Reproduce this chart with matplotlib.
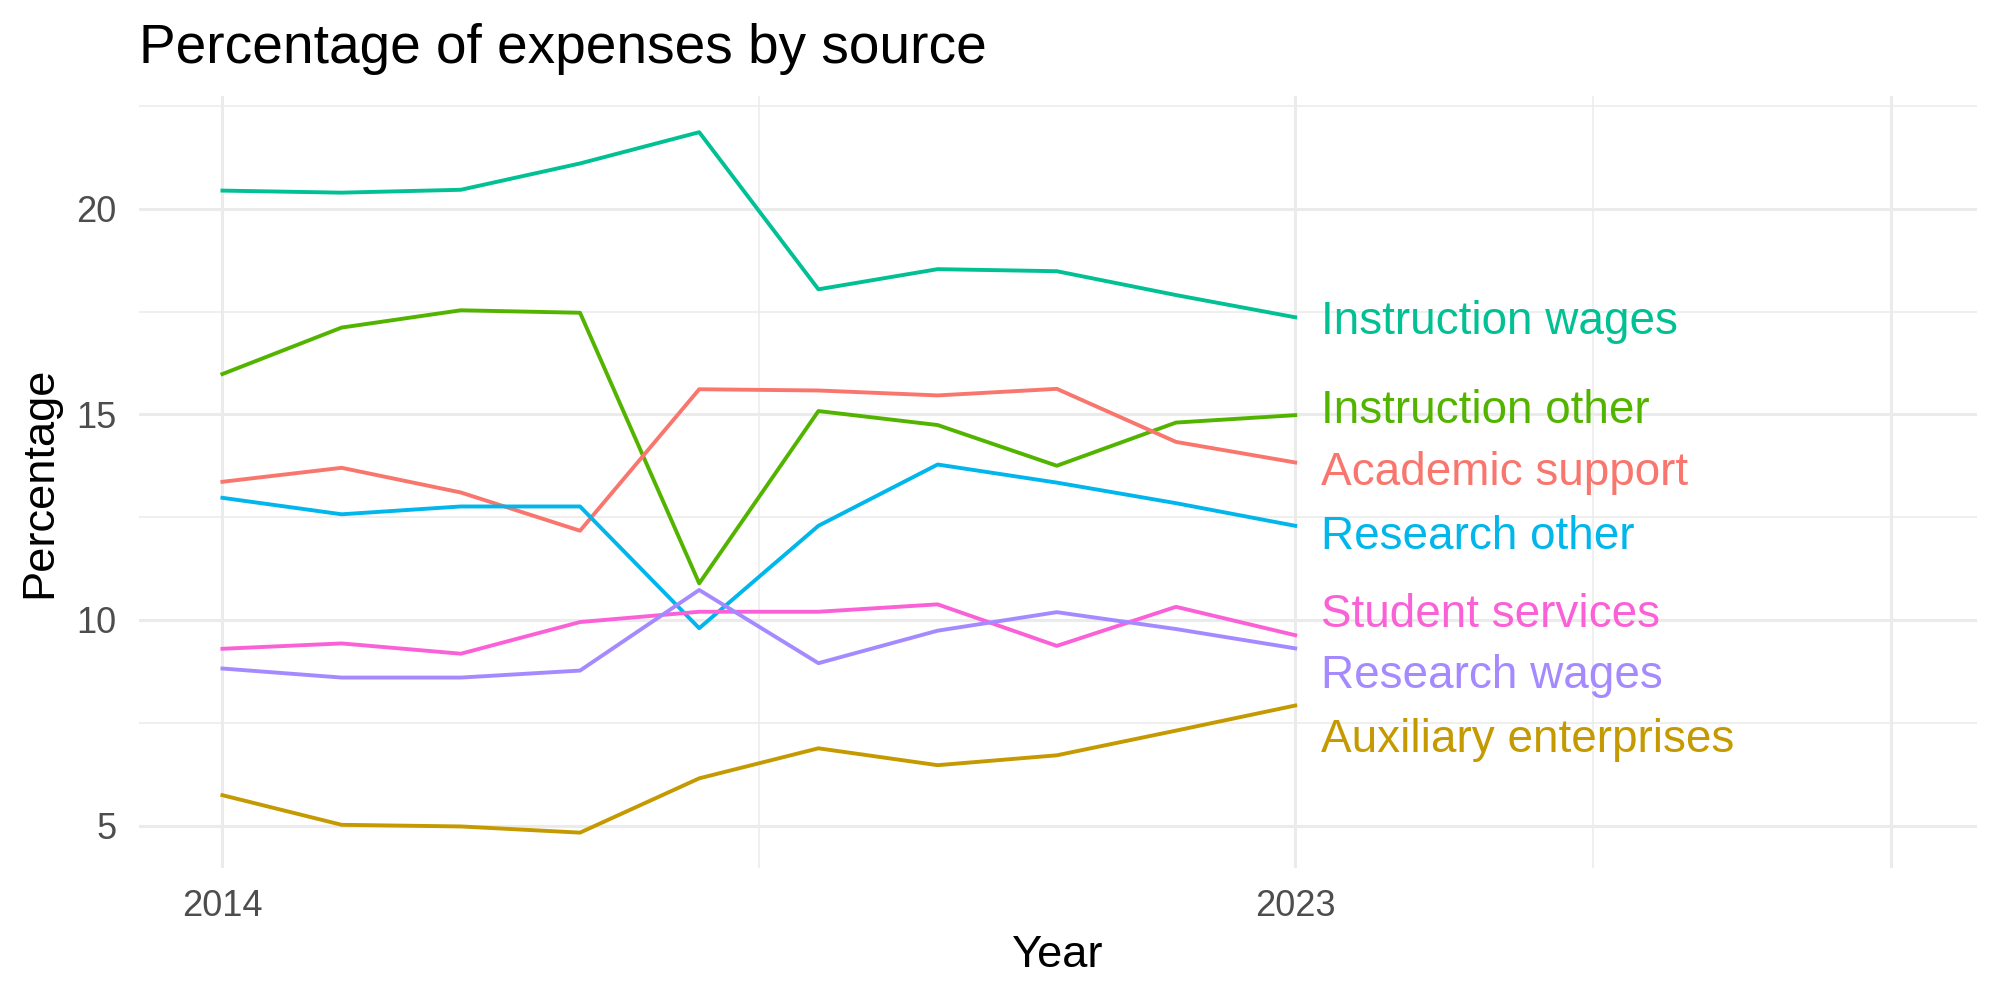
import matplotlib
matplotlib.use("Agg")
import matplotlib.pyplot as plt

plt.rcParams['font.family'] = ['Liberation Sans', 'DejaVu Sans']

# data
years = [2014, 2015, 2016, 2017, 2018, 2019, 2020, 2021, 2022, 2023]

instruction_wages = [20.44, 20.39, 20.46, 21.10, 21.86, 18.04, 18.53, 18.48, 17.90, 17.36]
instruction_other = [15.98, 17.11, 17.53, 17.47, 10.89, 15.08, 14.74, 13.75, 14.80, 14.98]
academic_support = [13.36, 13.70, 13.10, 12.17, 15.61, 15.58, 15.46, 15.62, 14.33, 13.83]
research_other = [12.97, 12.57, 12.76, 12.76, 9.80, 12.29, 13.78, 13.34, 12.84, 12.29]
student_services = [9.30, 9.43, 9.18, 9.95, 10.20, 10.20, 10.38, 9.37, 10.32, 9.63]
research_wages = [8.82, 8.60, 8.60, 8.77, 10.73, 8.95, 9.74, 10.19, 9.78, 9.31]
auxiliary = [5.74, 5.02, 4.98, 4.83, 6.15, 6.88, 6.47, 6.71, 7.31, 7.92]

names = ["Instruction wages", "Instruction other", "Academic support",
         "Research other", "Student services", "Research wages",
         "Auxiliary enterprises"]
series = [instruction_wages, instruction_other, academic_support,
          research_other, student_services, research_wages, auxiliary]
colors = ["#00C094", "#53B400", "#F8766D", "#00B6EB", "#FB61D7",
          "#A58AFF", "#C49A00"]
# repelled label baselines at the right end
label_y = [16.95, 14.78, 13.28, 11.72, 9.84, 8.34, 6.80]

fig = plt.figure(figsize=(10, 5), dpi=200)
ax = fig.add_axes([0.0695, 0.132, 0.919, 0.772])

for vals, c in zip(series, colors):
    ax.plot(years, vals, color=c, lw=1.4, zorder=3)

for name, ly, c in zip(names, label_y, colors):
    ax.text(2023.22, ly, name, color=c, fontsize=16.5, va='baseline',
            ha='left', zorder=4)

ax.set_xlim(2013.30, 2028.72)
ax.set_ylim(3.97, 22.74)
ax.set_xticks([2014, 2023, 2028])
ax.set_xticklabels(["2014", "2023", ""])
ax.set_xticks([2018.5, 2025.5], minor=True)
ax.set_yticks([5, 10, 15, 20])
ax.set_yticks([7.5, 12.5, 17.5, 22.5], minor=True)

ax.grid(which='major', color='#EBEBEB', lw=1.1, zorder=0)
ax.grid(which='minor', color='#EBEBEB', lw=0.55, zorder=0)
ax.set_axisbelow(True)
for s in ax.spines.values():
    s.set_visible(False)
ax.tick_params(which='both', length=0)
ax.tick_params(axis='both', labelsize=13, labelcolor='#4D4D4D')
ax.tick_params(axis='x', pad=7.5)
ax.tick_params(axis='y', pad=8)

ax.set_xlabel("Year", fontsize=16.3, labelpad=4)
ax.set_ylabel("Percentage", fontsize=16.3, labelpad=6)
fig.text(0.0695, 0.937, "Percentage of expenses by source", fontsize=19.8,
         ha='left', va='baseline')

fig.savefig("out.png", dpi=200)
